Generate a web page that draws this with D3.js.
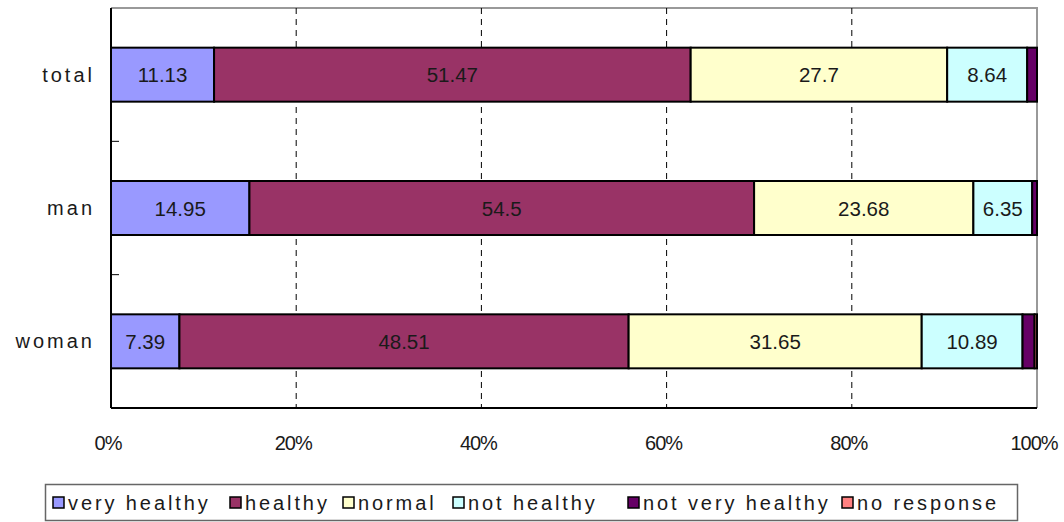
<!DOCTYPE html>
<html>
<head>
<meta charset="utf-8">
<script src="https://cdn.jsdelivr.net/npm/d3@7/dist/d3.min.js"></script>
<style>
  html, body { margin: 0; padding: 0; background: #fff; }
  svg { display: block; }
  text { font-family: "Liberation Sans", Arial, sans-serif; fill: #1a1a1a; }
</style>
</head>
<body>
<svg id="chart" width="1064" height="522"></svg>
<script>
const categories = ["total", "man", "woman"];
const seriesNames = ["very healthy", "healthy", "normal", "not healthy", "not very healthy", "no response"];
const seriesColors = ["#9999FF", "#993366", "#FFFFCC", "#CCFFFF", "#660066", "#FF8080"];
const veryHealthy = [11.13, 14.95, 7.39];
const healthy = [51.47, 54.5, 48.51];
const normal = [27.7, 23.68, 31.65];
const notHealthy = [8.64, 6.35, 10.89];
const notVeryHealthy = [1.06, 0.52, 1.30];
const noResponse = [0, 0, 0.26];
const tickValues = [0, 0.2, 0.4, 0.6, 0.8, 1];
const labelSeries = [0, 1, 2, 3]; // series whose values are printed

const seriesValues = [veryHealthy, healthy, normal, notHealthy, notVeryHealthy, noResponse];

const svg = d3.select("#chart");
const pLeft = 111, pRight = 1037, pTop = 8, pBottom = 408;

const x = d3.scaleLinear().domain([0, 1]).range([pLeft, pRight]);
const y = d3.scaleBand().domain(categories).range([pTop, pBottom]).paddingInner(0.595).paddingOuter(0.2975);

const rows = categories.map((c, i) => {
  const r = { cat: c };
  seriesNames.forEach((s, j) => r[s] = seriesValues[j][i]);
  return r;
});
const totals = rows.map(r => d3.sum(seriesNames, s => r[s]));
const stack = d3.stack().keys(seriesNames)
  .value((r, k) => r[k] / totals[categories.indexOf(r.cat)]);
const layers = stack(rows);

svg.append("path")
  .attr("d", `M${pLeft},${pTop}H${pRight}V${pBottom}`)
  .attr("fill", "none").attr("stroke", "#999").attr("stroke-width", 2);

svg.append("g").selectAll("line")
  .data(tickValues.filter(v => v > 0 && v < 1))
  .join("line")
  .attr("x1", d => x(d)).attr("x2", d => x(d))
  .attr("y1", pTop).attr("y2", pBottom)
  .attr("stroke", "#000").attr("stroke-width", 1)
  .attr("stroke-dasharray", "6,5");

const g = svg.append("g");
layers.forEach((layer, j) => {
  g.append("g").selectAll("rect")
    .data(layer.filter(d => d[1] - d[0] > 0))
    .join("rect")
    .attr("x", d => x(d[0]))
    .attr("width", d => x(d[1]) - x(d[0]))
    .attr("y", d => y(d.data.cat))
    .attr("height", y.bandwidth())
    .attr("fill", seriesColors[j])
    .attr("stroke", "#000")
    .attr("stroke-width", 2);
});

labelSeries.forEach(j => {
  const layer = layers[j];
  svg.append("g").selectAll("text")
    .data(layer)
    .join("text")
    .attr("x", d => (x(d[0]) + x(d[1])) / 2)
    .attr("y", d => y(d.data.cat) + y.bandwidth() / 2)
    .attr("text-anchor", "middle")
    .attr("dominant-baseline", "central")
    .attr("font-size", 20.5)
    .text(d => d.data[seriesNames[j]]);
});

const yAxis = svg.append("g");
yAxis.append("line").attr("x1", pLeft).attr("x2", pLeft).attr("y1", pTop).attr("y2", pBottom)
  .attr("stroke", "#000").attr("stroke-width", 2);
const bounds = categories.slice(1).map(c => y(c) - y.step() * y.paddingInner() / 2);
yAxis.selectAll("line.tick").data(bounds).join("line").attr("class", "tick")
  .attr("x1", pLeft).attr("x2", pLeft + 8).attr("y1", d => d).attr("y2", d => d)
  .attr("stroke", "#000").attr("stroke-width", 1);
yAxis.selectAll("text").data(categories).join("text")
  .attr("x", 95).attr("y", d => y(d) + y.bandwidth() / 2)
  .attr("text-anchor", "end").attr("dominant-baseline", "central")
  .attr("font-size", 20).attr("letter-spacing", 3)
  .text(d => d);

const xAxis = svg.append("g");
xAxis.append("line").attr("x1", pLeft).attr("x2", pRight).attr("y1", pBottom).attr("y2", pBottom)
  .attr("stroke", "#000").attr("stroke-width", 2);
xAxis.selectAll("text").data(tickValues).join("text")
  .attr("x", d => x(d) - 3).attr("y", 443)
  .attr("text-anchor", "middle").attr("dominant-baseline", "central")
  .attr("font-size", 20).attr("letter-spacing", -1)
  .text(d => d3.format(".0%")(d));

const legend = svg.append("g");
legend.append("rect").attr("x", 45.5).attr("y", 484.5).attr("width", 972).attr("height", 36)
  .attr("fill", "#fff").attr("stroke", "#666").attr("stroke-width", 1.5);
const legendX = [53, 230, 343, 453, 628, 842];
seriesNames.forEach((s, j) => {
  legend.append("rect").attr("x", legendX[j]).attr("y", 497).attr("width", 11).attr("height", 11)
    .attr("fill", seriesColors[j]).attr("stroke", "#000").attr("stroke-width", 1.5);
  legend.append("text").attr("x", legendX[j] + 15).attr("y", 503)
    .attr("dominant-baseline", "central").attr("font-size", 20).attr("letter-spacing", 2.9)
    .text(s);
});
</script>
</body>
</html>
